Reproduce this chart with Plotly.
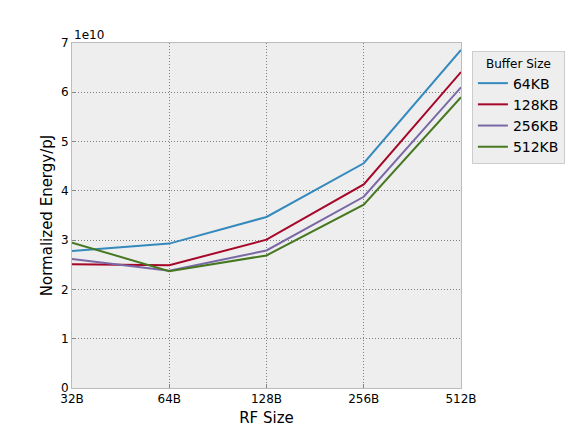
import math
import plotly.graph_objects as go

rf_sizes = [32, 64, 128, 256, 512]
rf_labels = ["32B", "64B", "128B", "256B", "512B"]
series_names = ["64KB", "128KB", "256KB", "512KB"]
energy_64kb = [2.78e10, 2.93e10, 3.47e10, 4.56e10, 6.86e10]
energy_128kb = [2.51e10, 2.49e10, 3.01e10, 4.13e10, 6.41e10]
energy_256kb = [2.62e10, 2.38e10, 2.79e10, 3.88e10, 6.10e10]
energy_512kb = [2.95e10, 2.37e10, 2.69e10, 3.72e10, 5.90e10]
y_ticks = [0, 1, 2, 3, 4, 5, 6, 7]
colors = ["#348ABD", "#A60628", "#7A68A6", "#467821"]

all_series = [energy_64kb, energy_128kb, energy_256kb, energy_512kb]

fig = go.Figure()
for name, vals, c in zip(series_names, all_series, colors):
    fig.add_trace(go.Scatter(x=rf_sizes, y=vals, mode="lines", name=name,
                             line=dict(color=c, width=2)))

font_family = "DejaVu Sans"
grid_dash = "1px,2px"
fig.update_layout(
    width=576, height=432,
    margin=dict(l=64, r=123, t=35, b=52, autoexpand=False),
    paper_bgcolor="white",
    plot_bgcolor="#EEEEEE",
    font=dict(family=font_family, size=12, color="black"),
    showlegend=True,
    legend=dict(
        title=dict(text="Buffer Size", font=dict(size=12, family=font_family), side="top center"),
        font=dict(size=14, family=font_family),
        x=1.028, y=0.977, xanchor="left", yanchor="top",
        bgcolor="#EEEEEE", bordercolor="#CCCCCC", borderwidth=1,
        itemwidth=30, tracegroupgap=1, entrywidth=58,
    ),
    xaxis=dict(
        type="log",
        range=[math.log10(rf_sizes[0]), math.log10(rf_sizes[-1])],
        tickvals=rf_sizes,
        ticktext=rf_labels,
        tickfont=dict(size=12),
        showgrid=True, gridcolor="#808080", griddash=grid_dash, gridwidth=1,
        showline=True, linecolor="#BCBCBC", linewidth=1, mirror=True,
        ticks="inside", ticklen=4, tickcolor="#888888",
        zeroline=False, automargin=False,
        title=dict(text="RF Size", font=dict(size=15), standoff=7),
    ),
    yaxis=dict(
        range=[0, 7e10],
        tickvals=[v * 1e10 for v in y_ticks],
        ticktext=[str(v) for v in y_ticks],
        tickfont=dict(size=12),
        showgrid=True, gridcolor="#808080", griddash=grid_dash, gridwidth=1,
        showline=True, linecolor="#BCBCBC", linewidth=1, mirror=True,
        ticks="inside", ticklen=4, tickcolor="#888888",
        zeroline=False, automargin=False,
        title=dict(text="Normalized Energy/pJ", font=dict(size=15), standoff=4),
    ),
    annotations=[dict(text="1e10", x=0, y=1, xref="paper", yref="paper",
                      xanchor="left", yanchor="bottom", showarrow=False,
                      font=dict(size=12, family=font_family), yshift=-1)],
)

fig.write_html("out.html")
